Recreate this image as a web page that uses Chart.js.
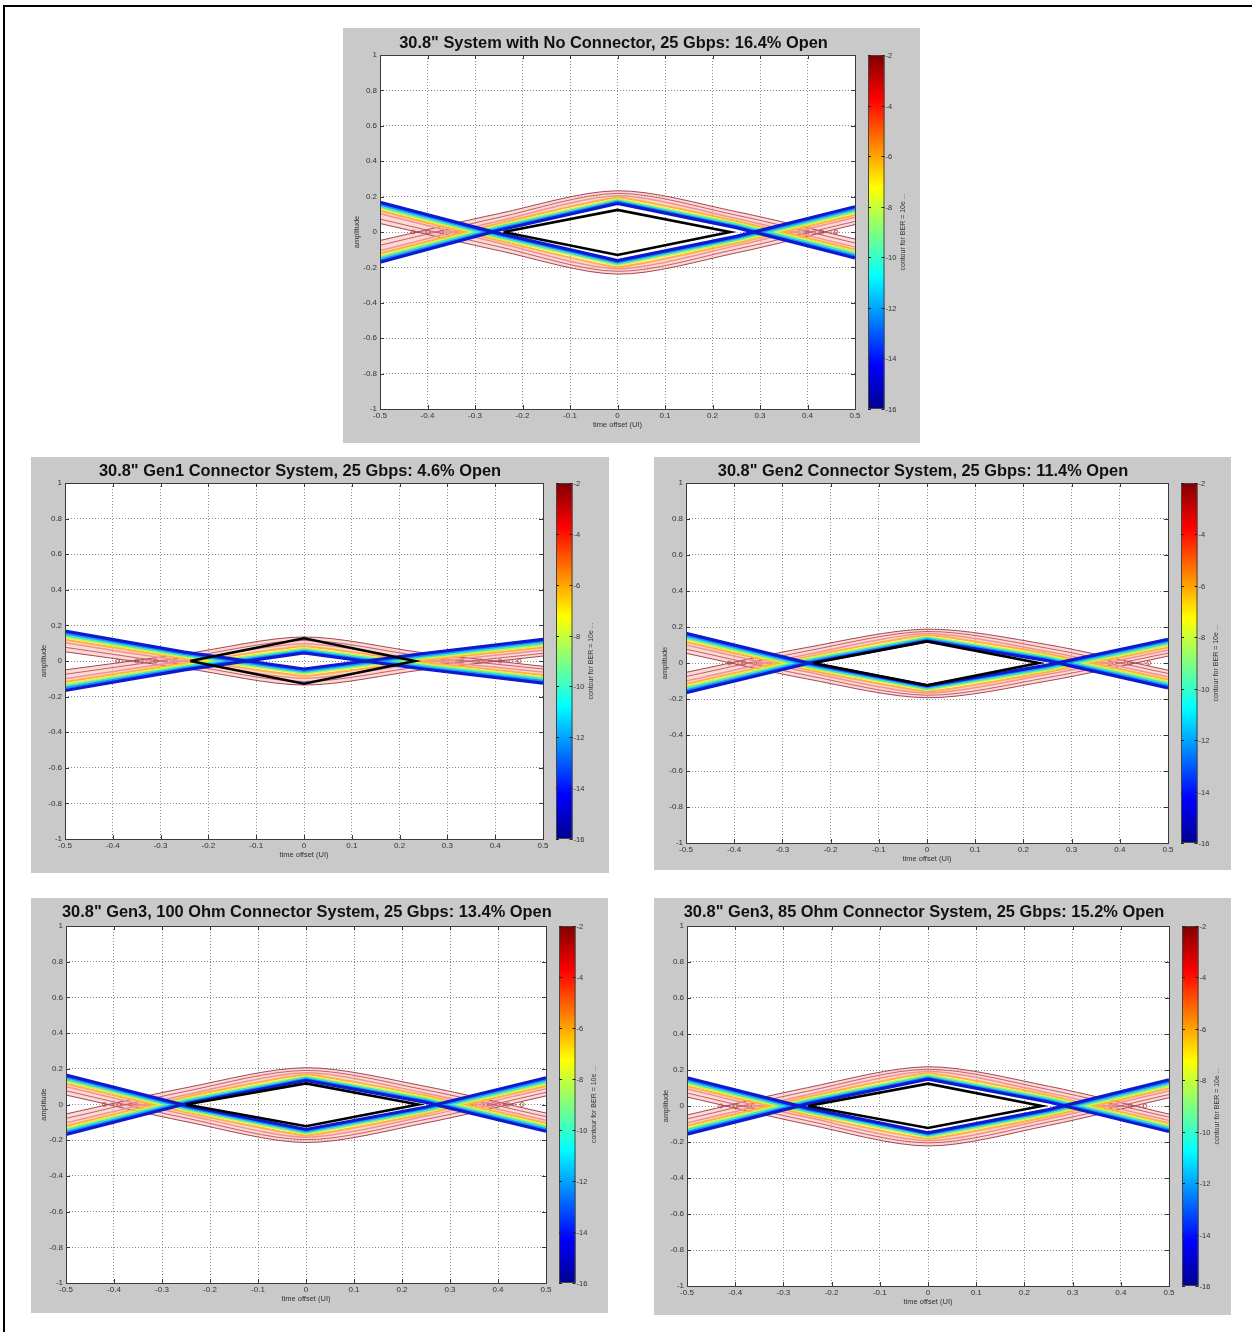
<!DOCTYPE html>
<html>
<head>
<meta charset="utf-8">
<title>Eye contours, 30.8" channel at 25 Gbps</title>
<script src="https://cdn.jsdelivr.net/npm/chart.js@4.4.1/dist/chart.umd.min.js"></script>
<style>
  body { margin: 0; background: #fff; }
  #page { position: relative; width: 1252px; height: 1332px; overflow: hidden; }
  #frame { position: absolute; left: 3px; top: 5px; width: 1300px; height: 1400px; border-left: 2px solid #000; border-top: 2px solid #000; }
  .panel { position: absolute; background: #c9c9c9; }
  .panel canvas { position: absolute; left: 0; top: 0; }
  .ptitle { position: absolute; height: 18px; line-height: 18px; text-align: center; white-space: nowrap;
            font: bold 16.4px "Liberation Sans", Arial, sans-serif; color: #111; }
</style>
</head>
<body>
<div id="page"><div id="frame"></div></div>
<script>
// shared axes
const xGrid = [-0.5, -0.25, 0, 0.25, 0.5];
const xTicks = [-0.5, -0.4, -0.3, -0.2, -0.1, 0, 0.1, 0.2, 0.3, 0.4, 0.5];
const yTicks = [-1, -0.8, -0.6, -0.4, -0.2, 0, 0.2, 0.4, 0.6, 0.8, 1];
const berTicks = [-2, -4, -6, -8, -10, -12, -14, -16];
const berLabel = 'contour for BER = 10e ...';

// contour lines, inner (-16) to outer (-2); y at xGrid
// 30.8" system, no connector
const noConnTitle = '30.8" System with No Connector, 25 Gbps: 16.4% Open';
const noConnUpper = [
  [-0.170, 0.010, 0.162, 0.025, -0.146],
  [-0.157, 0.020, 0.171, 0.034, -0.133],
  [-0.146, 0.029, 0.179, 0.043, -0.122],
  [-0.135, 0.038, 0.187, 0.052, -0.111],
  [-0.122, 0.048, 0.195, 0.062, -0.099],
  [-0.105, 0.062, 0.205, 0.076, -0.085],
  [-0.075, 0.082, 0.218, 0.095, -0.062],
  [-0.048, 0.104, 0.233, 0.115, -0.040]
];
const noConnLower = [
  [0.168, -0.008, -0.162, -0.025, 0.143],
  [0.155, -0.018, -0.172, -0.035, 0.130],
  [0.144, -0.028, -0.180, -0.044, 0.119],
  [0.133, -0.038, -0.189, -0.053, 0.108],
  [0.120, -0.048, -0.198, -0.063, 0.096],
  [0.103, -0.062, -0.208, -0.077, 0.082],
  [0.073, -0.083, -0.222, -0.097, 0.060],
  [0.048, -0.105, -0.238, -0.118, 0.042]
];
const noConnEyeX = [-0.240, 0, 0.237, 0, -0.240];
const noConnEyeY = [0, 0.125, 0, -0.130, 0];
const noConnBlobsL = [-0.43, -0.40, -0.37, -0.34, -0.31];
const noConnBlobsR = [0.33, 0.36, 0.40, 0.43, 0.46];

// Gen1 connector
const gen1Title = '30.8" Gen1 Connector System, 25 Gbps: 4.6% Open';
const gen1Upper = [
  [-0.166, -0.050, 0.045, -0.045, -0.124],
  [-0.153, -0.040, 0.055, -0.035, -0.112],
  [-0.142, -0.031, 0.064, -0.026, -0.101],
  [-0.131, -0.022, 0.073, -0.017, -0.090],
  [-0.118, -0.012, 0.083, -0.007, -0.078],
  [-0.100, 0.002, 0.097, 0.007, -0.062],
  [-0.075, 0.020, 0.115, 0.026, -0.045],
  [-0.050, 0.040, 0.135, 0.046, -0.030]
];
const gen1Lower = [
  [0.168, 0.050, -0.045, 0.042, 0.122],
  [0.155, 0.040, -0.055, 0.032, 0.110],
  [0.144, 0.031, -0.064, 0.023, 0.099],
  [0.133, 0.022, -0.073, 0.014, 0.088],
  [0.120, 0.012, -0.083, 0.004, 0.076],
  [0.102, -0.002, -0.097, -0.010, 0.060],
  [0.077, -0.021, -0.115, -0.029, 0.043],
  [0.052, -0.041, -0.135, -0.049, 0.028]
];
const gen1EyeX = [-0.238, 0, 0.232, 0, -0.238];
const gen1EyeY = [0, 0.128, 0, -0.128, 0];
const gen1BlobsL = [-0.39, -0.35, -0.31, -0.27, -0.24];
const gen1BlobsR = [0.25, 0.29, 0.33, 0.37, 0.41, 0.45];

// Gen2 connector
const gen2Title = '30.8" Gen2 Connector System, 25 Gbps: 11.4% Open';
const gen2Upper = [
  [-0.165, -0.004, 0.122, 0.013, -0.138],
  [-0.152, 0.006, 0.131, 0.023, -0.126],
  [-0.141, 0.015, 0.139, 0.032, -0.115],
  [-0.130, 0.024, 0.147, 0.041, -0.104],
  [-0.117, 0.034, 0.155, 0.051, -0.092],
  [-0.100, 0.047, 0.164, 0.064, -0.076],
  [-0.075, 0.066, 0.175, 0.082, -0.058],
  [-0.052, 0.086, 0.188, 0.102, -0.040]
];
const gen2Lower = [
  [0.165, 0.002, -0.125, -0.012, 0.132],
  [0.152, -0.008, -0.134, -0.022, 0.120],
  [0.141, -0.017, -0.142, -0.031, 0.109],
  [0.130, -0.026, -0.150, -0.040, 0.098],
  [0.117, -0.036, -0.158, -0.050, 0.086],
  [0.100, -0.049, -0.167, -0.063, 0.071],
  [0.077, -0.068, -0.179, -0.081, 0.055],
  [0.054, -0.088, -0.193, -0.100, 0.038]
];
const gen2EyeX = [-0.236, 0, 0.232, 0, -0.236];
const gen2EyeY = [0, 0.120, 0, -0.124, 0];
const gen2BlobsL = [-0.41, -0.38, -0.35, -0.32, -0.29];
const gen2BlobsR = [0.30, 0.34, 0.38, 0.42, 0.46];

// Gen3, 100 Ohm connector
const gen3aTitle = '30.8" Gen3, 100 Ohm Connector System, 25 Gbps: 13.4% Open';
const gen3aUpper = [
  [-0.168, 0.004, 0.135, 0.012, -0.150],
  [-0.155, 0.014, 0.144, 0.022, -0.138],
  [-0.144, 0.023, 0.152, 0.031, -0.127],
  [-0.133, 0.032, 0.160, 0.040, -0.116],
  [-0.120, 0.042, 0.168, 0.050, -0.104],
  [-0.103, 0.055, 0.178, 0.063, -0.088],
  [-0.078, 0.074, 0.191, 0.081, -0.068],
  [-0.053, 0.094, 0.206, 0.101, -0.048]
];
const gen3aLower = [
  [0.165, -0.006, -0.140, -0.014, 0.150],
  [0.152, -0.016, -0.149, -0.024, 0.138],
  [0.141, -0.025, -0.157, -0.033, 0.127],
  [0.130, -0.034, -0.165, -0.042, 0.116],
  [0.117, -0.044, -0.173, -0.052, 0.104],
  [0.100, -0.057, -0.183, -0.065, 0.088],
  [0.077, -0.076, -0.197, -0.083, 0.068],
  [0.053, -0.096, -0.213, -0.103, 0.048]
];
const gen3aEyeX = [-0.250, 0, 0.234, 0, -0.250];
const gen3aEyeY = [0, 0.118, 0, -0.122, 0];
const gen3aBlobsL = [-0.42, -0.39, -0.36, -0.33, -0.30];
const gen3aBlobsR = [0.31, 0.35, 0.39, 0.42, 0.45];

// Gen3, 85 Ohm connector
const gen3bTitle = '30.8" Gen3, 85 Ohm Connector System, 25 Gbps: 15.2% Open';
const gen3bUpper = [
  [-0.156, 0.012, 0.149, 0.022, -0.142],
  [-0.144, 0.022, 0.158, 0.032, -0.130],
  [-0.133, 0.031, 0.166, 0.041, -0.119],
  [-0.122, 0.040, 0.174, 0.050, -0.108],
  [-0.110, 0.050, 0.182, 0.060, -0.096],
  [-0.094, 0.063, 0.192, 0.073, -0.080],
  [-0.072, 0.082, 0.204, 0.091, -0.062],
  [-0.050, 0.102, 0.218, 0.110, -0.045]
];
const gen3bLower = [
  [0.156, -0.012, -0.149, -0.020, 0.145],
  [0.144, -0.022, -0.158, -0.030, 0.133],
  [0.133, -0.031, -0.166, -0.039, 0.122],
  [0.122, -0.040, -0.174, -0.048, 0.111],
  [0.110, -0.050, -0.182, -0.058, 0.099],
  [0.094, -0.063, -0.192, -0.071, 0.083],
  [0.072, -0.082, -0.205, -0.089, 0.064],
  [0.050, -0.102, -0.222, -0.108, 0.046]
];
const gen3bEyeX = [-0.249, 0, 0.236, 0, -0.249];
const gen3bEyeY = [0, 0.124, 0, -0.122, 0];
const gen3bBlobsL = [-0.43, -0.40, -0.37, -0.34, -0.31];
const gen3bBlobsR = [0.32, 0.35, 0.38, 0.42, 0.45];

// styles
const FONT = '"Liberation Sans", Arial, sans-serif';
const lineStyles = [
  { color: '#0b1bd0', width: 3.2, tension: 0 },
  { color: '#1a8cff', width: 2.2, tension: 0 },
  { color: '#3ee6c8', width: 2.2, tension: 0 },
  { color: '#d8f040', width: 2.2, tension: 0 },
  { color: '#ffb040', width: 2, tension: 0.1 },
  { color: '#f49090', width: 1.5, tension: 0.25 },
  { color: '#c06070', width: 1, tension: 0.3 },
  { color: '#a04858', width: 1, tension: 0.3 }
];
const bandFill = 'rgba(250, 185, 175, 0.55)';
const jetStops = [[0, '#00008f'], [0.125, '#0000ff'], [0.375, '#00ffff'], [0.625, '#ffff00'], [0.875, '#ff0000'], [1, '#800000']];

const panelBoxes = [
  { left: 343, top: 28, w: 577, h: 415, L: 37, T: 27, R: 512, B: 34, titleY: 14, yTitleX: 14, xTitleY: 397 },
  { left: 31, top: 457, w: 578, h: 416, L: 34, T: 26, R: 512, B: 34, titleY: 13, yTitleX: 13, xTitleY: 398 },
  { left: 654, top: 457, w: 577, h: 413, L: 32, T: 26, R: 514, B: 27, titleY: 13, yTitleX: 11, xTitleY: 402 },
  { left: 31, top: 898, w: 577, h: 415, L: 35, T: 28, R: 515, B: 30, titleY: 13, yTitleX: 13, xTitleY: 401 },
  { left: 654, top: 898, w: 577, h: 417, L: 33, T: 28, R: 515, B: 29, titleY: 13, yTitleX: 12, xTitleY: 404 }
];

// white plot area, solid frame and inward tick marks
const plotFrame = {
  id: 'plotFrame',
  beforeDraw(chart) {
    const { ctx, chartArea: a } = chart;
    ctx.save();
    ctx.fillStyle = '#fff';
    ctx.fillRect(a.left, a.top, a.right - a.left, a.bottom - a.top);
    ctx.restore();
  },
  afterDatasetsDraw(chart) {
    const { ctx, chartArea: a, scales } = chart;
    ctx.save();
    ctx.strokeStyle = '#3a3a3a';
    ctx.lineWidth = 1;
    ctx.beginPath();
    xTicks.forEach(v => {
      const x = Math.round(scales.x.getPixelForValue(v)) + 0.5;
      ctx.moveTo(x, a.bottom); ctx.lineTo(x, a.bottom - 4);
      ctx.moveTo(x, a.top); ctx.lineTo(x, a.top + 4);
    });
    yTicks.forEach(v => {
      const y = Math.round(scales.y.getPixelForValue(v)) + 0.5;
      ctx.moveTo(a.left, y); ctx.lineTo(a.left + 4, y);
      ctx.moveTo(a.right, y); ctx.lineTo(a.right - 4, y);
    });
    ctx.stroke();
    ctx.strokeRect(Math.round(a.left) + 0.5, Math.round(a.top) + 0.5, Math.round(a.right - a.left), Math.round(a.bottom - a.top));
    ctx.restore();
  }
};

// jet colour bar at the right of the plot
const colorbar = {
  id: 'colorbar',
  afterDraw(chart, args, opts) {
    const { ctx, chartArea: a } = chart;
    const x = Math.round(a.right + opts.gap), w = opts.width, h = a.bottom - a.top;
    const grad = ctx.createLinearGradient(0, a.bottom, 0, a.top);
    jetStops.forEach(s => grad.addColorStop(s[0], s[1]));
    ctx.save();
    ctx.fillStyle = grad;
    ctx.fillRect(x, a.top, w, h);
    ctx.strokeStyle = '#444';
    ctx.lineWidth = 1;
    ctx.strokeRect(x + 0.5, a.top + 0.5, w - 1, h - 1);
    const lo = berTicks[berTicks.length - 1], hi = berTicks[0];
    ctx.font = '7.5px ' + FONT;
    ctx.fillStyle = '#333';
    ctx.textAlign = 'left';
    ctx.textBaseline = 'middle';
    berTicks.forEach(v => {
      const y = Math.round(a.bottom - (v - lo) / (hi - lo) * h) + 0.5;
      ctx.beginPath();
      ctx.moveTo(x, y); ctx.lineTo(x + 3, y);
      ctx.moveTo(x + w, y); ctx.lineTo(x + w - 3, y);
      ctx.strokeStyle = '#222';
      ctx.stroke();
      ctx.fillText(String(v), x + w + 1, y);
    });
    ctx.translate(x + w + 19, (a.top + a.bottom) / 2);
    ctx.rotate(-Math.PI / 2);
    ctx.textAlign = 'center';
    ctx.font = '7px ' + FONT;
    ctx.fillText(opts.label, 0, 0);
    ctx.restore();
  }
};

function lineSet(xs, ys, style) {
  return {
    data: xs.map((x, k) => ({ x: x, y: ys[k] })),
    borderColor: style.color,
    borderWidth: style.width,
    tension: style.tension,
    pointRadius: 0,
    fill: false
  };
}

function drawPanel(box, title, upper, lower, eyeX, eyeY, blobsL, blobsR) {
  const panel = document.createElement('div');
  panel.className = 'panel';
  panel.style.left = box.left + 'px';
  panel.style.top = box.top + 'px';
  panel.style.width = box.w + 'px';
  panel.style.height = box.h + 'px';
  const cv = document.createElement('canvas');
  cv.width = box.w;
  cv.height = box.h;
  const head = document.createElement('div');
  head.className = 'ptitle';
  head.textContent = title;
  head.style.left = (box.L - 4) + 'px';
  head.style.width = (box.R - box.L) + 'px';
  head.style.top = (box.titleY - 9) + 'px';
  panel.appendChild(cv);
  panel.appendChild(head);
  document.getElementById('page').appendChild(panel);

  // dataset 0 is drawn on top
  const datasets = [lineSet(eyeX, eyeY, { color: '#000', width: 2.6, tension: 0 })];
  for (let i = 0; i < upper.length; i++) {
    datasets.push(lineSet(xGrid, upper[i], lineStyles[i]));
    datasets.push(lineSet(xGrid, lower[i], lineStyles[i]));
  }
  // pale band between the -6 and -2 contours
  datasets[1 + 2 * 7].fill = 1 + 2 * 4;
  datasets[1 + 2 * 7].backgroundColor = bandFill;
  datasets[2 + 2 * 7].fill = 2 + 2 * 4;
  datasets[2 + 2 * 7].backgroundColor = bandFill;
  [blobsL, blobsR].forEach(b => {
    datasets.push({
      data: b.map(x => ({ x: x, y: 0 })),
      borderColor: '#c85a5a',
      borderWidth: 1,
      borderDash: [2, 2],
      pointRadius: 2,
      pointStyle: 'circle',
      pointBorderColor: '#c85a5a',
      pointBorderWidth: 1,
      pointBackgroundColor: 'rgba(255,255,255,0)',
      fill: false
    });
  });

  new Chart(cv, {
    type: 'line',
    data: { datasets: datasets },
    options: {
      responsive: false,
      animation: false,
      events: [],
      layout: { autoPadding: false, padding: { top: box.T, right: box.w - box.R, left: 0, bottom: 0 } },
      plugins: {
        legend: { display: false },
        tooltip: { enabled: false },
        filler: { drawTime: 'beforeDatasetsDraw' },
        colorbar: { gap: 12.5, width: 16.5, label: berLabel }
      },
      scales: {
        x: {
          type: 'linear', min: -0.5, max: 0.5,
          afterBuildTicks: s => { s.ticks = xTicks.map(v => ({ value: v })); },
          afterFit: s => { s.height = box.B; },
          grid: { color: '#8a8a8a', lineWidth: 1, drawTicks: false },
          border: { display: false, dash: [1, 2] },
          ticks: { color: '#333', font: { family: FONT, size: 8 }, padding: 2, maxRotation: 0, autoSkip: false, callback: v => String(v) },
          title: { display: true, text: 'time offset (UI)', color: '#333', font: { family: FONT, size: 7.5 },
                   padding: { top: 0, bottom: box.h - box.xTitleY - 4.5 } }
        },
        y: {
          type: 'linear', min: -1, max: 1,
          afterBuildTicks: s => { s.ticks = yTicks.map(v => ({ value: v })); },
          afterFit: s => { s.width = box.L; },
          grid: { color: '#8a8a8a', lineWidth: 1, drawTicks: false },
          border: { display: false, dash: [1, 2] },
          ticks: { color: '#333', font: { family: FONT, size: 8 }, padding: 3, autoSkip: false, callback: v => String(v) },
          title: { display: true, text: 'amplitude', color: '#333', font: { family: FONT, size: 7.5 },
                   padding: { top: box.yTitleX - 4.5, bottom: 0 } }
        }
      }
    },
    plugins: [plotFrame, colorbar]
  });
}

drawPanel(panelBoxes[0], noConnTitle, noConnUpper, noConnLower, noConnEyeX, noConnEyeY, noConnBlobsL, noConnBlobsR);
drawPanel(panelBoxes[1], gen1Title, gen1Upper, gen1Lower, gen1EyeX, gen1EyeY, gen1BlobsL, gen1BlobsR);
drawPanel(panelBoxes[2], gen2Title, gen2Upper, gen2Lower, gen2EyeX, gen2EyeY, gen2BlobsL, gen2BlobsR);
drawPanel(panelBoxes[3], gen3aTitle, gen3aUpper, gen3aLower, gen3aEyeX, gen3aEyeY, gen3aBlobsL, gen3aBlobsR);
drawPanel(panelBoxes[4], gen3bTitle, gen3bUpper, gen3bLower, gen3bEyeX, gen3bEyeY, gen3bBlobsL, gen3bBlobsR);
</script>
</body>
</html>
